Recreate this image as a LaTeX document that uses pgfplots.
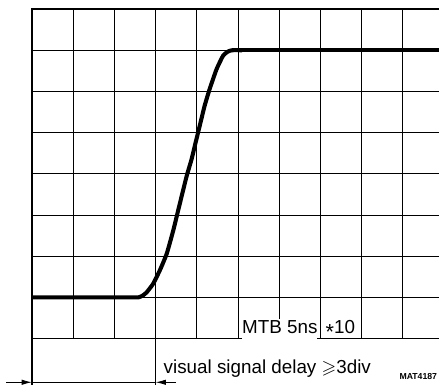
\documentclass[border=0pt]{standalone}
\usepackage{pgfplots}
\pgfplotsset{compat=1.18}
\usepackage{amssymb}
\usepackage{fontspec}
\setmainfont{Liberation Sans}
\usetikzlibrary{arrows.meta}
\begin{document}
\begin{tikzpicture}
\begin{axis}[
  x=1cm, y=1cm, xmin=0, xmax=9.88, ymin=0, ymax=8,
  axis line style={draw=none},
  xtick={1,...,9}, ytick={0,...,8},
  xticklabels={}, yticklabels={}, major tick length=0pt,
  grid=major, major grid style={black, line width=0.6pt},
  extra x ticks={0}, extra x tick labels={},
  extra x tick style={grid=major, major grid style={black, line width=1.1pt}},
  clip=false,
]
\addplot[black, line width=2.8pt, smooth, tension=0.3, line join=round] coordinates {
  (0,1) (2.4,1) (2.58,1.0) (2.68,1.04) (2.78,1.12) (2.94,1.33) (3.10,1.65)
  (3.27,2.06) (3.43,2.63) (3.55,3.12) (3.75,3.93) (3.87,4.34) (3.95,4.67)
  (4.07,5.16) (4.19,5.65) (4.31,6.05) (4.48,6.54) (4.64,6.87) (4.76,6.97)
  (4.86,7.0) (5.1,7.0)
};
\addplot[black, line width=2.8pt] coordinates {(5.05,7) (9.88,7)};
% top border
\draw[black, line width=1pt] (axis cs:-0.02,8) -- (axis cs:9.88,8);
% lower annotation
\draw[black, line width=1.1pt] (axis cs:0,0) -- (axis cs:0,-1.3);
\draw[black, line width=0.6pt] (axis cs:3,0) -- (axis cs:3,-1.3);
\draw[black, line width=0.6pt, -{Latex[length=0.25cm,width=0.13cm]}] (axis cs:-0.62,-1.06) -- (axis cs:0,-1.06);
\draw[black, line width=0.6pt] (axis cs:0,-1.06) -- (axis cs:3,-1.06);
\draw[black, line width=0.6pt, -{Latex[length=0.25cm,width=0.13cm]}] (axis cs:3.5,-1.06) -- (axis cs:3,-1.06);
\node[anchor=base west, inner sep=0pt, font=\fontsize{13}{15}\selectfont] at (axis cs:3.19,-0.857) {visual signal delay $\geqslant$3div};
\node[anchor=base east, inner sep=0pt, fill=white, outer sep=0pt, font=\fontsize{13}{15}\selectfont] at (axis cs:6.93,0.114) {\strut MTB 5ns};
\node[anchor=base west, inner sep=0pt, font=\fontsize{13}{15}\selectfont] at (axis cs:7.12,0.114) {\raisebox{-0.3em}{\fontsize{15}{15}\selectfont *}10};
\node[anchor=base east, inner sep=0pt, font=\fontsize{6}{7}\selectfont\bfseries] at (axis cs:9.84,-1.0) {MAT4187};
\coordinate (bl) at (axis cs:-0.777,-1.117);
\coordinate (tr) at (axis cs:9.88,8.22);
\end{axis}
\pgfresetboundingbox
\path[use as bounding box] (bl) rectangle (tr);
\end{tikzpicture}
\end{document}
